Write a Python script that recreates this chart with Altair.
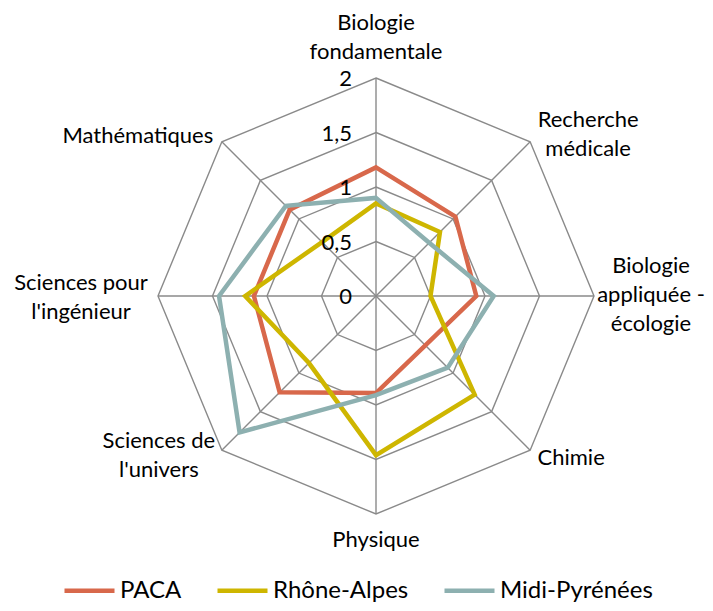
import math
import altair as alt
import pandas as pd

# ---- data ----
axes = [
    "Biologie\nfondamentale",
    "Recherche\nmédicale",
    "Biologie\nappliquée -\nécologie",
    "Chimie",
    "Physique",
    "Sciences de\nl'univers",
    "Sciences pour\nl'ingénieur",
    "Mathématiques",
]
series = ["PACA", "Rhône-Alpes", "Midi-Pyrénées"]
paca = [1.18, 1.03, 0.92, 0.64, 0.89, 1.25, 1.12, 1.12]
rhone = [0.85, 0.83, 0.50, 1.28, 1.46, 0.87, 1.20, 0.70]
midi = [0.90, 0.69, 1.08, 0.93, 0.91, 1.77, 1.44, 1.17]
levels = [0.5, 1.0, 1.5, 2.0]
tick_values = [0, 0.5, 1.0, 1.5, 2.0]
tick_labels = ["0", "0,5", "1", "1,5", "2"]
colors = ["#D8684B", "#CEB600", "#8DB0B0"]

RMAX = 2.0
FONT = "Lato"
FS = 22
LFS = 24
GRID = "#8A8A8A"

# ---- tables ----
n = len(axes)
rows = []
for s, vals in zip(series, [paca, rhone, midi]):
    for i, v in enumerate(vals):
        rows.append({"series": s, "idx": i, "value": v})
df = pd.DataFrame(rows)

grid_df = pd.DataFrame([{"level": l, "idx": i} for l in levels for i in range(n)])
spoke_df = pd.DataFrame({"idx": list(range(n)), "value": [RMAX] * n})
label_df = pd.DataFrame({"idx": list(range(n)), "label": axes, "value": [RMAX] * n})
tick_df = pd.DataFrame({"value": tick_values, "label": tick_labels})

xs = alt.Scale(domain=[-RMAX, RMAX], nice=False, zero=False)
ys = alt.Scale(domain=[-RMAX, RMAX], nice=False, zero=False)

def polar(ch, rfield):
    return ch.transform_calculate(
        theta=f"datum.idx * 2 * PI / {n}"
    ).transform_calculate(
        px=f"datum.{rfield} * sin(datum.theta)",
        py=f"datum.{rfield} * cos(datum.theta)",
    )

grid = polar(alt.Chart(grid_df), "level").mark_line(
    interpolate="linear-closed", color=GRID, strokeWidth=1.4
).encode(
    x=alt.X("px:Q", scale=xs, axis=None),
    y=alt.Y("py:Q", scale=ys, axis=None),
    detail="level:N",
    order="idx:Q",
)

spokes = polar(alt.Chart(spoke_df), "value").transform_calculate(
    ox="0", oy="0"
).mark_rule(color=GRID, strokeWidth=1.4).encode(
    x=alt.X("ox:Q", scale=xs, axis=None),
    y=alt.Y("oy:Q", scale=ys, axis=None),
    x2="px:Q",
    y2="py:Q",
)

lines = polar(alt.Chart(df), "value").mark_line(
    interpolate="linear-closed", strokeWidth=4.5, strokeJoin="miter"
).encode(
    x=alt.X("px:Q", scale=xs, axis=None),
    y=alt.Y("py:Q", scale=ys, axis=None),
    color=alt.Color(
        "series:N",
        scale=alt.Scale(domain=series, range=colors),
        sort=series,
        legend=alt.Legend(
            title=None,
            orient="none",
            direction="horizontal",
            legendX=-96,
            legendY=485,
            symbolType="stroke",
            symbolSize=2500,
            symbolStrokeWidth=4.5,
            labelFont=FONT,
            labelFontSize=LFS,
            labelColor="black",
            labelOffset=3,
            columnPadding=26,
            padding=0,
        ),
    ),
    order="idx:Q",
)

ticks = alt.Chart(tick_df).transform_calculate(ox="0").mark_text(
    align="right", baseline="middle", dx=-24, dy=1, font=FONT, fontSize=FS, color="black"
).encode(
    x=alt.X("ox:Q", scale=xs, axis=None),
    y=alt.Y("value:Q", scale=ys, axis=None),
    text="label:N",
)

# per-label offsets from the outer vertex (dx, dy of the first text line)
offsets = [(0, -55), (58, -22), (57, -30), (41, 8), (0, 26), (-63, -9), (-77, -13), (-84, -6)]
label_layers = []
for i, (ddx, ddy) in enumerate(offsets):
    label_layers.append(
        polar(alt.Chart(label_df), "value").transform_filter(f"datum.idx == {i}").mark_text(
            align="center", baseline="middle", dx=ddx, dy=ddy, font=FONT, fontSize=FS,
            color="black", lineBreak="\n", lineHeight=29,
        ).encode(
            x=alt.X("px:Q", scale=xs, axis=None),
            y=alt.Y("py:Q", scale=ys, axis=None),
            text="label:N",
        )
    )

chart = alt.layer(grid, spokes, lines, ticks, *label_layers).properties(
    width=436,
    height=436,
    background="white",
    autosize=alt.AutoSizeParams(type="none"),
    padding={"left": 150, "top": 70, "right": 111, "bottom": 89},
).configure_view(strokeWidth=0)

chart.save("out.html", embed_options={"renderer": "svg", "actions": False})
